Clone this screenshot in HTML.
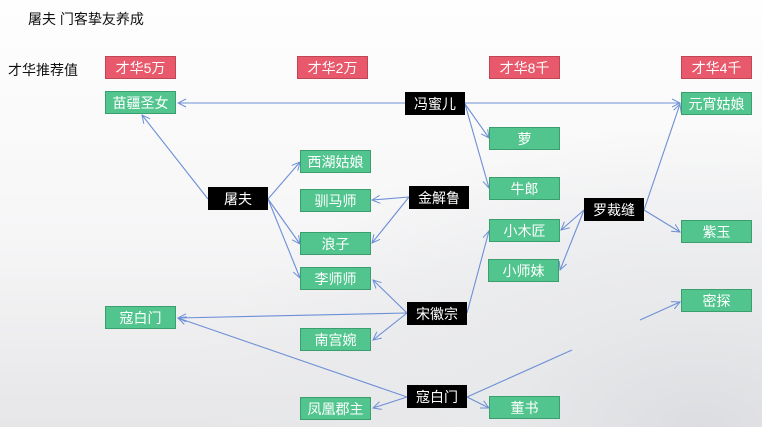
<!DOCTYPE html>
<html><head><meta charset="utf-8"><style>
html,body{margin:0;padding:0}
body{width:762px;height:427px;overflow:hidden;position:relative;font-family:"Liberation Sans","Noto Sans CJK SC",sans-serif;
background:radial-gradient(ellipse 520px 300px at 700px 427px,#dcdde0 0%,#e8e9eb 40%,rgba(250,250,250,0) 100%),linear-gradient(#fefefe 0%,#f6f6f7 55%,#e6e6e8 100%);}
.b{position:absolute;box-sizing:border-box;height:23px;display:flex;align-items:center;justify-content:center;font-size:14px;color:#fff;white-space:nowrap}
.r{background:#e8596c;border:1px solid #c04555;width:71px}
.g{background:#52c58f;border:1px solid #3a9e6e;width:71px}
.k{background:#000;width:60px}
.t{position:absolute;font-size:14px;color:#111;white-space:nowrap}
svg{position:absolute;left:0;top:0}
</style></head><body>
<div class="t" style="left:28px;top:9px">屠夫 门客挚友养成</div>
<div class="t" style="left:8px;top:60px">才华推荐值</div>
<svg width="762" height="427">
<defs><marker id="a" markerWidth="10" markerHeight="10" refX="9" refY="5" orient="auto" markerUnits="userSpaceOnUse"><path d="M1,1 L9,5 L1,9" fill="none" stroke="#6d8fd6" stroke-width="1"/></marker></defs>
<g stroke="#6d8fd6" stroke-width="1.1" fill="none" marker-end="url(#a)">
<line x1="405" y1="103" x2="178" y2="103"/>
<line x1="465" y1="103" x2="680" y2="103"/>
<line x1="465" y1="104" x2="489" y2="138"/>
<line x1="465" y1="104" x2="489" y2="188"/>
<line x1="208" y1="199" x2="142" y2="115"/>
<line x1="268" y1="199" x2="300" y2="162"/>
<line x1="268" y1="199" x2="300" y2="244"/>
<line x1="268" y1="199" x2="300" y2="278"/>
<line x1="409" y1="197" x2="372" y2="200"/>
<line x1="409" y1="197" x2="372" y2="243"/>
<line x1="644" y1="210" x2="680" y2="104"/>
<line x1="644" y1="210" x2="680" y2="232"/>
<line x1="584" y1="210" x2="561" y2="230"/>
<line x1="584" y1="210" x2="560" y2="270"/>
<line x1="467" y1="313" x2="489" y2="231"/>
<line x1="407" y1="313" x2="373" y2="280"/>
<line x1="407" y1="313" x2="178" y2="318"/>
<line x1="407" y1="313" x2="373" y2="340"/>
<line x1="407" y1="397" x2="178" y2="318"/>
<line x1="407" y1="397" x2="373" y2="408"/>
<line x1="467" y1="397" x2="489" y2="408"/>
<line x1="640" y1="320" x2="680" y2="302"/>
</g>
<line x1="467" y1="397" x2="572" y2="350" stroke="#6d8fd6" stroke-width="1.1"/>
</svg>
<div class="b r" style="left:105px;top:56px">才华5万</div>
<div class="b r" style="left:297px;top:56px">才华2万</div>
<div class="b r" style="left:489px;top:56px">才华8千</div>
<div class="b r" style="left:681px;top:56px">才华4千</div>
<div class="b g" style="left:105px;top:91px">苗疆圣女</div>
<div class="b g" style="left:681px;top:92px">元宵姑娘</div>
<div class="b k" style="left:405px;top:92px">冯蜜儿</div>
<div class="b g" style="left:489px;top:127px">萝</div>
<div class="b g" style="left:489px;top:177px">牛郎</div>
<div class="b g" style="left:300px;top:150px">西湖姑娘</div>
<div class="b g" style="left:300px;top:189px">驯马师</div>
<div class="b k" style="left:208px;top:187px">屠夫</div>
<div class="b k" style="left:409px;top:186px">金解鲁</div>
<div class="b k" style="left:584px;top:198px">罗裁缝</div>
<div class="b g" style="left:489px;top:219px">小木匠</div>
<div class="b g" style="left:681px;top:220px">紫玉</div>
<div class="b g" style="left:300px;top:232px">浪子</div>
<div class="b g" style="left:488px;top:259px">小师妹</div>
<div class="b g" style="left:300px;top:267px">李师师</div>
<div class="b g" style="left:681px;top:289px">密探</div>
<div class="b g" style="left:105px;top:306px">寇白门</div>
<div class="b k" style="left:407px;top:302px">宋徽宗</div>
<div class="b g" style="left:300px;top:328px">南宫婉</div>
<div class="b k" style="left:407px;top:385px">寇白门</div>
<div class="b g" style="left:300px;top:397px">凤凰郡主</div>
<div class="b g" style="left:489px;top:396px">董书</div>
</body></html>
